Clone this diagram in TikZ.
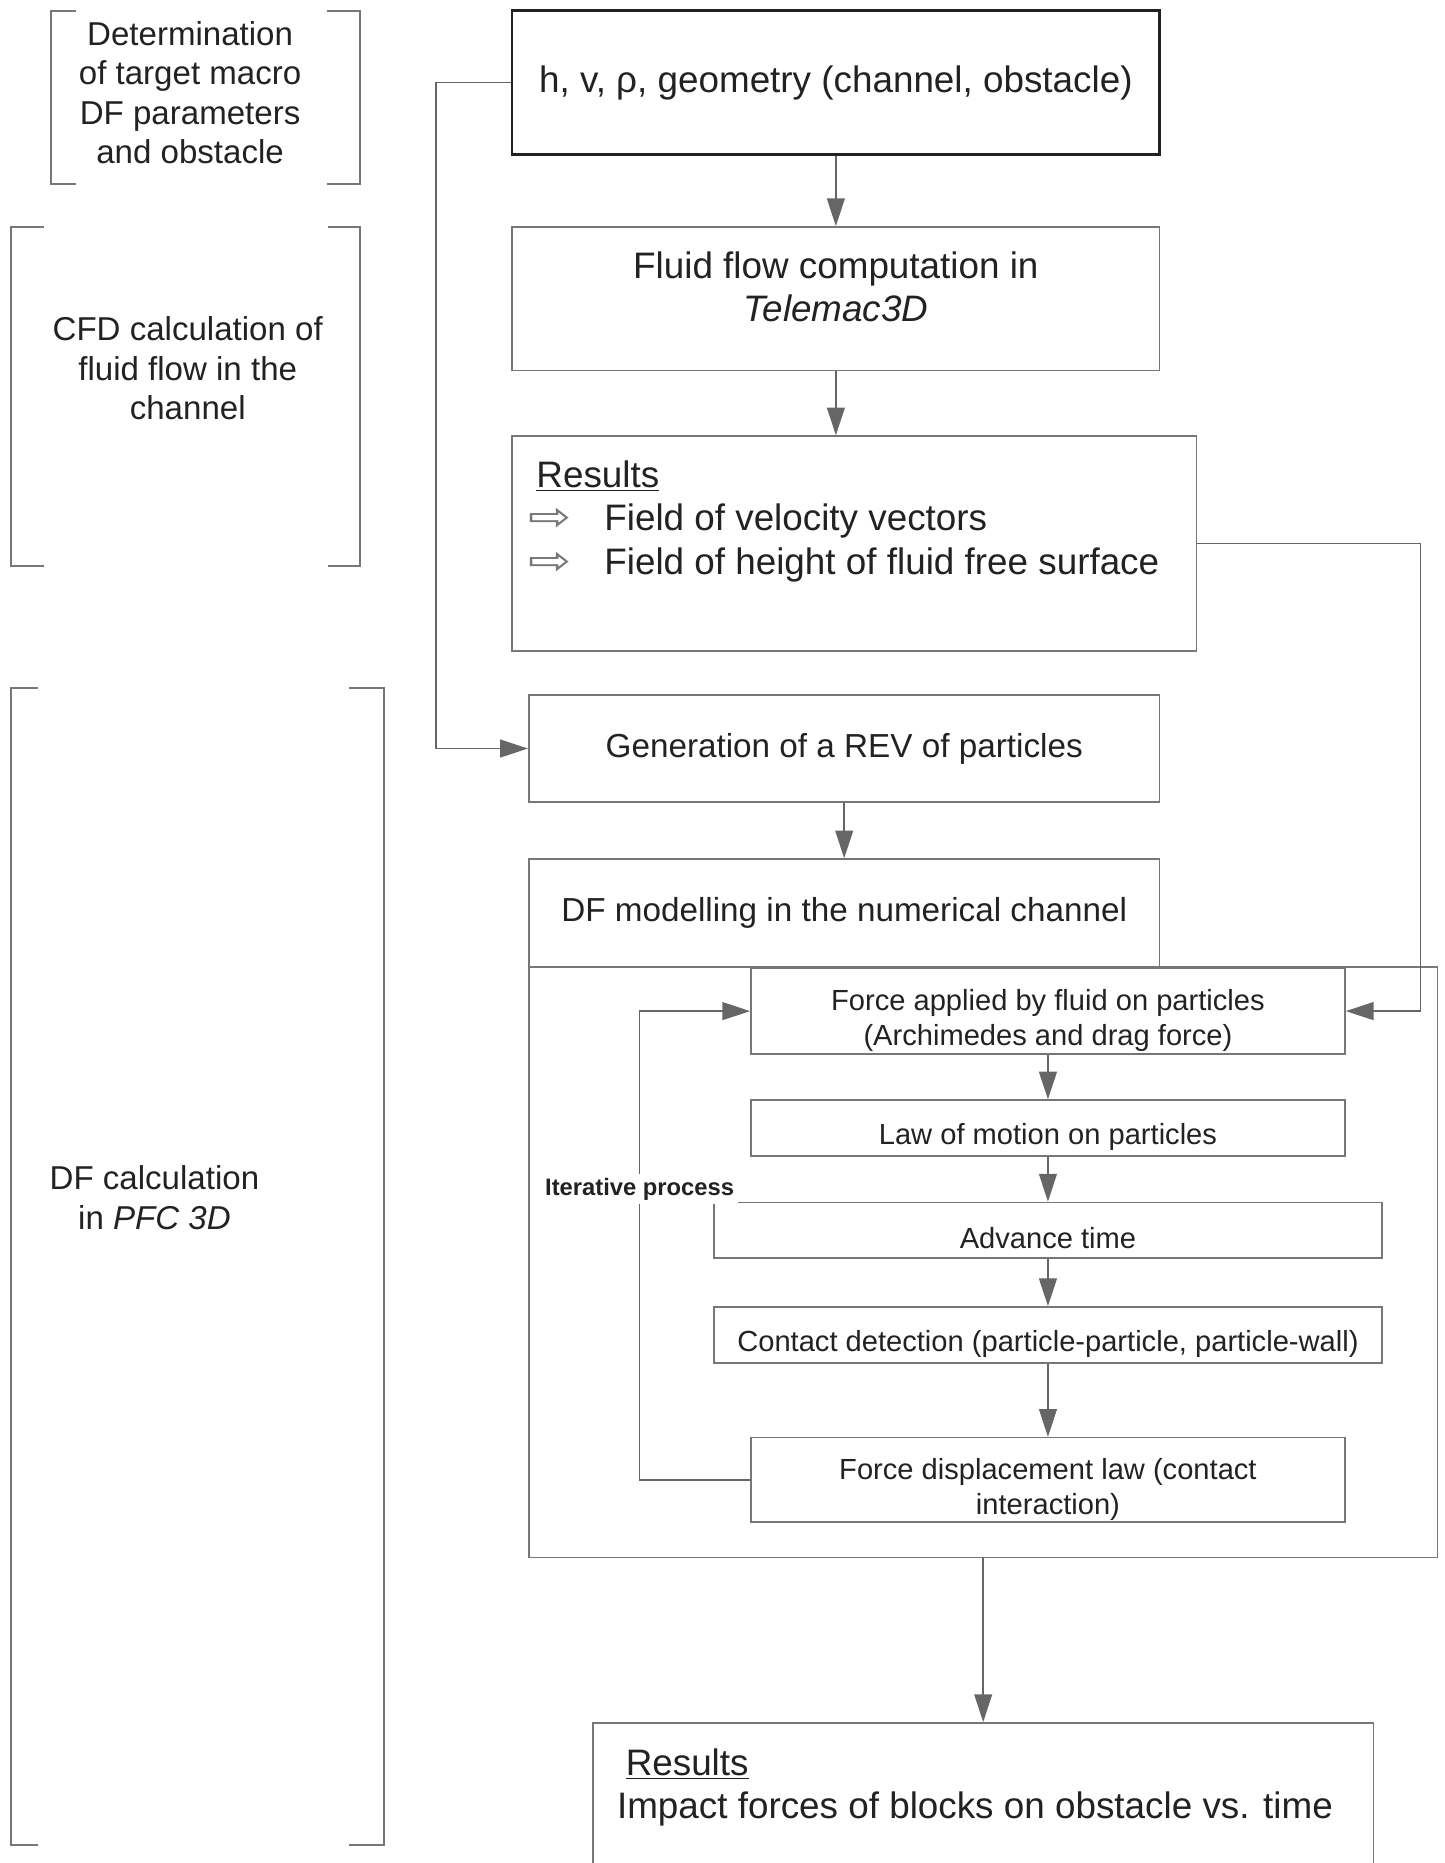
\documentclass[tikz,border=0pt]{standalone}
\usepackage{fontspec}
\setmainfont{Liberation Sans}
\newfontfamily\arrowfont{DejaVu Sans}
\usepackage{xcolor}
\usetikzlibrary{arrows.meta}
\definecolor{ink}{HTML}{222222}
\definecolor{wire}{HTML}{666666}
\definecolor{frame}{HTML}{777777}
\tikzstyle{box}=[rectangle, draw=frame, line width=0.8pt, inner sep=0pt, text=ink, align=center, font=\fontsize{18.6}{22}\selectfont]
\tikzstyle{midbox}=[box, font=\fontsize{16.8}{20}\selectfont]
\tikzset{smallbox/.style={box, font=\fontsize{14.7}{17.4}\selectfont, execute at begin node={\rule{0pt}{#1}}}, smallbox/.default=20pt}
\tikzstyle{flow}=[draw=wire, line width=0.8pt, -{Triangle[length=14pt,width=9pt]}]
\tikzstyle{bracket}=[draw=frame, line width=1pt]
\tikzstyle{stage}=[text=ink, align=center, font=\fontsize{16.7}{19.8}\selectfont]
\tikzstyle{resultlist}=[anchor=north west, inner sep=0pt, text=ink, align=left, font=\fontsize{18.6}{21.9}\selectfont]
\tikzstyle{looplabel}=[fill=white, inner sep=2pt, text=ink, font=\fontsize{12}{14}\selectfont\bfseries]
\newcommand{\boxnode}{\node[box]}
\newcommand{\hollow}{\makebox[38.5pt][l]{\textcolor{frame}{\arrowfont\fontsize{20}{20}\selectfont\scalebox{1.3}[1]{⇨}}}}

\begin{document}
\begin{tikzpicture}[x=0.6pt, y=-0.6pt]
\useasboundingbox (0,0) rectangle (1216,1568);
\draw[bracket] (64,9) -- (43,9) -- (43,155) -- (64,155) (275,9) -- (303,9) -- (303,155) -- (275,155);
\draw[bracket] (37,191) -- (9,191) -- (9,476) -- (37,476) (276,191) -- (303,191) -- (303,476) -- (276,476);
\draw[bracket] (32,579) -- (9,579) -- (9,1553) -- (32,1553) (294,579) -- (323,579) -- (323,1553) -- (294,1553);
\node[stage] (stage1) at (160,78) {Determination\\of target macro\\DF parameters\\and obstacle};
\node[stage] (stage2) at (158,310) {CFD calculation of\\fluid flow in the\\channel};
\node[stage] (stage3) at (130,1008) {DF calculation\\in \textit{PFC 3D}};

\boxnode[draw=ink, line width=1.2pt, minimum width=327pt, minimum height=72.6pt] (params) at (703.5,69.5) {h, v, ρ, geometry (channel, obstacle)};
\boxnode[minimum width=327pt, minimum height=72.6pt, label={[box, draw=none, yshift=6pt]center:{Fluid flow computation in\\\textit{Telemac3D}}}] (telemac) at (703.5,251.5) {};
\boxnode[minimum width=345.6pt, minimum height=108.6pt, label={[resultlist, xshift=8.3pt, yshift=-12.6pt]north west:{\hspace*{4.2pt}\underline{Results}\\\hollow Field of velocity vectors\\\hollow Field of height of fluid free surface}}] (cfdres) at (719,457.5) {};
\node[midbox, minimum width=318.6pt, minimum height=54pt] (rev) at (710.5,630) {Generation of a REV of particles};
\node[midbox, minimum width=318.6pt, minimum height=54.6pt] (dfmod) at (710.5,768.5) {DF modelling in the numerical channel};
\boxnode[minimum width=459pt, minimum height=298.2pt] (loop) at (827.5,1062.5) {};
\node[smallbox=37.5pt, minimum width=300pt, minimum height=43.2pt] (force) at (882,851) {Force applied by fluid on particles\\(Archimedes and drag force)};
\node[smallbox, minimum width=300pt, minimum height=28.2pt] (motion) at (882,949.5) {Law of motion on particles};
\node[smallbox=19pt, minimum width=337.2pt, minimum height=28.2pt] (advance) at (882,1035.5) {Advance time};
\node[smallbox, minimum width=337.2pt, minimum height=28.2pt] (contact) at (882,1123.5) {Contact detection (particle-particle, particle-wall)};
\node[smallbox=38pt, minimum width=300pt, minimum height=42.6pt] (fdlaw) at (882,1245.5) {Force displacement law (contact\\interaction)};
\boxnode[minimum width=394.2pt, minimum height=114pt, label={[resultlist, xshift=12.4pt, yshift=-13.3pt]north west:{\hspace*{4.4pt}\underline{Results}\\Impact forces of blocks on obstacle vs. time}}] (impact) at (827.5,1545) {};

\draw[flow] (params) -- (telemac);
\draw[flow] (telemac) -- (telemac |- cfdres.north);
\draw[flow] (rev) -- (dfmod);
\draw[flow] (params.west) -- ++(-63,0) |- (rev.west);
\draw[flow] (cfdres.east) -- ++(188,0) |- (force.east);
\foreach \a/\b in {force/motion, motion/advance, advance/contact, contact/fdlaw}
	\draw[flow] (\a) -- (\b);
\draw[flow] (fdlaw.west) -- ++(-93,0) |- node[pos=0.31, looplabel] (iterate) {Iterative process} (force.west);
\draw[flow] (loop) -- (impact);
\end{tikzpicture}
\end{document}
